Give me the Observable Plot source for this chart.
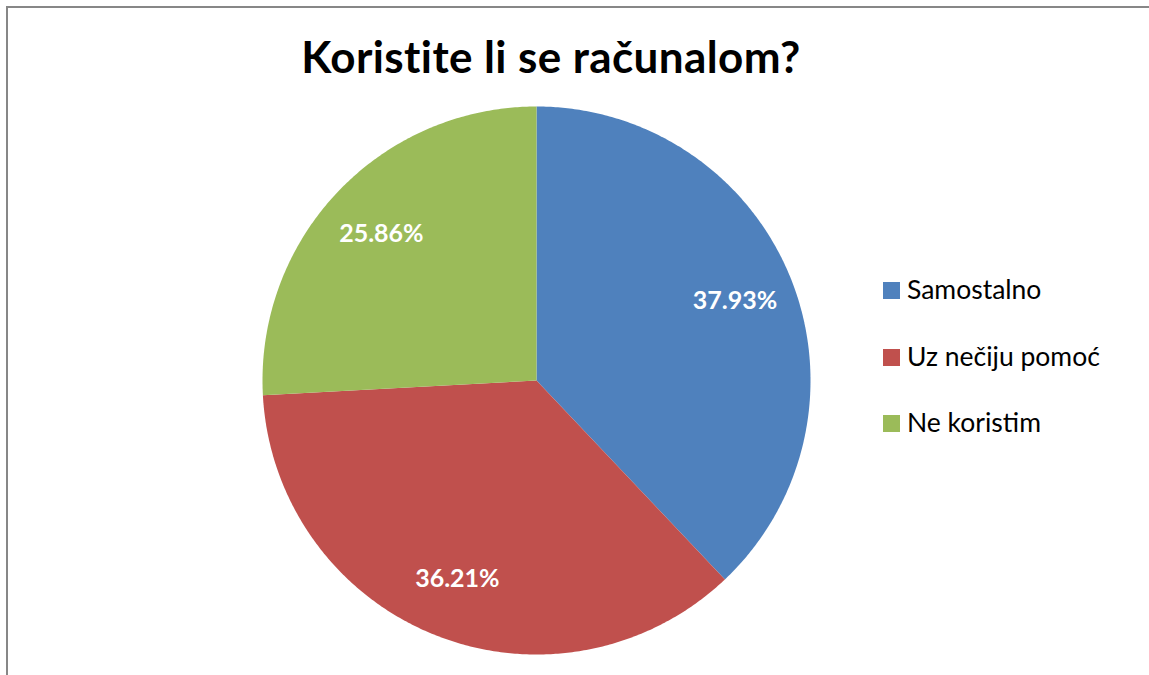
<!DOCTYPE html>
<html><head><meta charset="utf-8">
<script src="https://cdn.jsdelivr.net/npm/d3@7"></script>
<script src="https://cdn.jsdelivr.net/npm/@observablehq/plot@0.6"></script>
<style>
html,body{margin:0;padding:0;background:#fff;overflow:hidden;}
#wrap{position:relative;width:1149px;height:675px;overflow:hidden;font-family:Lato,"Open Sans",sans-serif;}
#frame{position:absolute;left:6px;top:6px;width:1300px;height:900px;border:2px solid #878787;box-sizing:border-box;}
#chart{position:absolute;left:0;top:0;}
#title{position:absolute;left:0;top:34px;width:1102px;text-align:center;font-weight:bold;font-size:44px;letter-spacing:0.4px;line-height:1;color:#000;white-space:nowrap;}
.sw{position:absolute;width:17px;height:17px;}
.lt{position:absolute;left:907px;font-size:26.5px;line-height:1;color:#000;white-space:nowrap;}
</style></head><body>
<div id="wrap"><div id="frame"></div><div id="chart"></div><div id="title">Koristite li se računalom?</div><div id="legend"></div></div>
<script>
const categories = ["Samostalno", "Uz nečiju pomoć", "Ne koristim"];
const percentages = [37.93, 36.21, 25.86];
const colors = ["#4F81BD", "#C0504D", "#9BBB59"];

const total = d3.sum(percentages);
let acc = 0;
const slices = categories.map((c, i) => {
  const a0 = acc / total * 2 * Math.PI;
  acc += percentages[i];
  const a1 = acc / total * 2 * Math.PI;
  return {category: c, value: percentages[i], a0, a1};
});
const outline = slices.flatMap(s => {
  const n = Math.max(2, Math.ceil((s.a1 - s.a0) / (Math.PI / 360)));
  const pts = [{category: s.category, x: 0, y: 0}];
  for (let k = 0; k <= n; k++) {
    const a = s.a0 + (s.a1 - s.a0) * k / n;
    pts.push({category: s.category, x: Math.sin(a), y: Math.cos(a)});
  }
  pts.push({category: s.category, x: 0, y: 0});
  return pts;
});
const labels = slices.map(s => {
  const m = (s.a0 + s.a1) / 2;
  return {x: 0.78 * Math.sin(m), y: 0.78 * Math.cos(m), text: s.value.toFixed(2) + "%"};
});

const chart = Plot.plot({
  width: 1149, height: 675,
  marginLeft: 262, marginRight: 339, marginTop: 106, marginBottom: 21,
  style: {fontFamily: "Lato, sans-serif", background: "transparent"},
  x: {domain: [-1, 1], axis: null},
  y: {domain: [-1, 1], axis: null},
  color: {domain: categories, range: colors},
  marks: [
    Plot.line(outline, {x: "x", y: "y", z: "category", fill: "category", stroke: "none", curve: "linear"}),
    Plot.text(labels, {x: "x", y: "y", text: "text", fill: "white", fontWeight: "bold", fontSize: 25})
  ]
});
document.getElementById("chart").appendChild(chart);

const legend = document.getElementById("legend");
categories.forEach((c, i) => {
  const sw = document.createElement("div");
  sw.className = "sw";
  sw.style.left = "883px";
  sw.style.top = (282 + i * 66.7) + "px";
  sw.style.background = colors[i];
  legend.appendChild(sw);
  const t = document.createElement("div");
  t.className = "lt";
  t.style.top = (276 + i * 66.7) + "px";
  t.textContent = c;
  legend.appendChild(t);
});
</script>
</body></html>
